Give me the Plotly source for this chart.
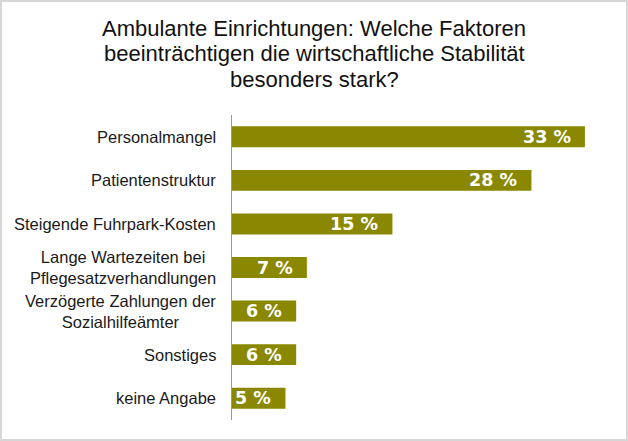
import plotly.graph_objects as go

categories = [
    "Personalmangel",
    "Patientenstruktur",
    "Steigende Fuhrpark-Kosten",
    "Lange Wartezeiten bei<br>Pflegesatzverhandlungen",
    "Verzögerte Zahlungen der<br>Sozialhilfeämter",
    "Sonstiges",
    "keine Angabe",
]
values = [33, 28, 15, 7, 6, 6, 5]
value_labels = ["33 %", "28 %", "15 %", "7 %", "6 %", "6 %", "5 %"]

title_lines = [
    "Ambulante Einrichtungen: Welche Faktoren",
    "beeinträchtigen die wirtschaftliche Stabilität",
    "besonders stark?",
]

W, H = 628, 441
ML, MR, MT, MB = 232, 11, 115, 21
BAR_COLOR = "#8a8700"
pw = W - ML - MR
ph = H - MT - MB

fig = go.Figure()
fig.add_trace(go.Bar(
    x=values, y=list(range(len(categories))), orientation="h",
    marker=dict(color=BAR_COLOR, line=dict(width=0)),
    hoverinfo="skip",
))

annotations = []
for i, (cat, v, lab) in enumerate(zip(categories, values, value_labels)):
    annotations.append(dict(
        x=0, y=i, xref="x", yref="y", text=cat, showarrow=False,
        xanchor="right", yanchor="middle", align="center", xshift=-14,
        font=dict(family="Liberation Sans, Arial, sans-serif", size=16.5, color="#1a1a1a"),
    ))
    annotations.append(dict(
        x=v, y=i, xref="x", yref="y", text=lab, showarrow=False,
        xanchor="right", yanchor="middle", xshift=-12, yshift=0,
        font=dict(family="DejaVu Sans, sans-serif", size=17.5, color="white", weight="bold"),
    ))

# title lines (pixel centres from top of figure)
title_centres = [28.3, 53.8, 79.3]
for line, py in zip(title_lines, title_centres):
    annotations.append(dict(
        x=0.5, xref="container" if False else "paper", y=(H - MB - py) / ph, yref="paper",
        text=line, showarrow=False, xanchor="center", yanchor="middle",
        xshift=(W / 2 - (ML + pw / 2)),
        font=dict(family="Liberation Sans, Arial, sans-serif", size=22, color="#111111"),
    ))

fig.add_shape(
    type="rect", xref="paper", yref="paper",
    x0=(1 - ML) / pw, x1=(W - 1 - ML) / pw,
    y0=(-MB + 1) / ph, y1=(H - MB - 1) / ph,
    line=dict(color="#d6d6d6", width=2), fillcolor="rgba(0,0,0,0)", layer="above",
)

fig.update_layout(
    width=W, height=H,
    margin=dict(l=ML, r=MR, t=MT, b=MB),
    paper_bgcolor="white", plot_bgcolor="white",
    bargap=0.52,
    showlegend=False,
    annotations=annotations,
    xaxis=dict(range=[0, 36], visible=False, fixedrange=True),
    yaxis=dict(
        range=[6.5, -0.5], showticklabels=False, showgrid=False, zeroline=False,
        showline=True, linecolor="#a39d5e", linewidth=1, ticks="", fixedrange=True,
    ),
)

fig.write_html("out.html", config={"displayModeBar": False},
               post_script="document.body.style.margin='0';document.body.style.overflow='hidden';")
